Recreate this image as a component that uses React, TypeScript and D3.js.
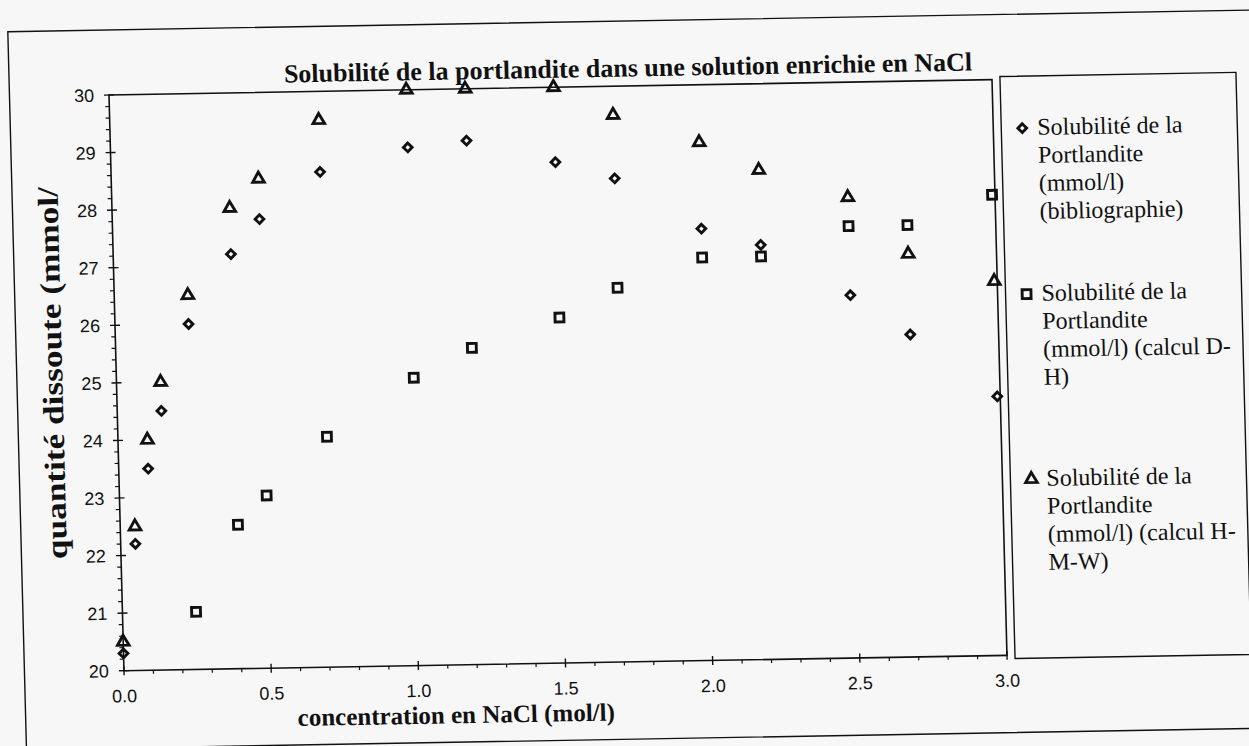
import React from "react";
import * as d3 from "d3";

// NaCl concentration (mol/l) shared by the three series
const concentrations = [0, 0.05, 0.1, 0.15, 0.25, 0.4, 0.5, 0.71, 1.01, 1.21, 1.51, 1.71, 2.0, 2.2, 2.5, 2.7, 2.99];
// Portlandite solubility (mmol/l)
const bibliographie = [20.3, 22.2, 23.5, 24.5, 26.0, 27.2, 27.8, 28.6, 29.0, 29.1, 28.7, 28.4, 27.5, 27.2, 26.3, 25.6, 24.5];
const calculDH = [null, null, null, null, 21.0, 22.5, 23.0, 24.0, 25.0, 25.5, 26.0, 26.5, 27.0, 27.0, 27.5, 27.5, 28.0];
const calculHMW = [20.5, 22.5, 24.0, 25.0, 26.5, 28.0, 28.5, 29.5, 30.0, 30.0, 30.0, 29.5, 29.0, 28.5, 28.0, 27.0, 26.5];

const xTickLabels = ["0.0", "0.5", "1.0", "1.5", "2.0", "2.5", "3.0"];
const yTickLabels = ["20", "21", "22", "23", "24", "25", "26", "27", "28", "29", "30"];

const chartTitle = "Solubilité de la portlandite dans une solution enrichie en NaCl";
const xTitle = "concentration en NaCl (mol/l)";
const yTitle = "quantité dissoute (mmol/";

const legendEntries = [
  { marker: "diamond", lines: ["Solubilité de la", "Portlandite", "(mmol/l)", "(bibliographie)"] },
  { marker: "square", lines: ["Solubilité de la", "Portlandite", "(mmol/l) (calcul D-", "H)"] },
  { marker: "triangle", lines: ["Solubilité de la", "Portlandite", "(mmol/l) (calcul H-", "M-W)"] },
];

const W = 1249;
const H = 746;
const plot = { left: 109, right: 992, top: 95, bottom: 670.7 };
const serif = "'Liberation Serif', 'Times New Roman', serif";
const sans = "'Liberation Sans', Arial, sans-serif";
const ink = "#111";
const paper = "#f7f7f7";

const shapes: Record<string, { d: string; rot: number }> = {
  diamond: { d: d3.symbol(d3.symbolSquare, 38)() as string, rot: 45 },
  square: { d: d3.symbol(d3.symbolSquare, 78)() as string, rot: 0 },
  triangle: { d: d3.symbol(d3.symbolTriangle, 58)() as string, rot: 0 },
};

function Marker({ kind, cx, cy }: { kind: string; cx: number; cy: number }) {
  const s = shapes[kind];
  return (
    <path
      d={s.d}
      transform={`translate(${cx},${cy}) rotate(${s.rot})`}
      fill="none"
      stroke={ink}
      strokeWidth={2.9}
      strokeLinejoin="miter"
    />
  );
}

export default function App() {
  const x = d3.scaleLinear().domain([0, 3]).range([plot.left, plot.right]);
  const y = d3.scaleLinear().domain([20, 30]).range([plot.bottom, plot.top]);

  const xMajor = xTickLabels.map(Number);
  const xMinor = d3.range(0, 31).filter((i) => i % 5 !== 0).map((i) => i / 10);
  const yMajor = yTickLabels.map(Number);
  const yMinor = d3.range(0, 51).filter((i) => i % 5 !== 0).map((i) => 20 + i / 5);

  const series = [
    { kind: "diamond", values: bibliographie },
    { kind: "square", values: calculDH },
    { kind: "triangle", values: calculHMW },
  ];

  const legendTop = [151, 317, 502];
  const lineGap = 28;

  return (
    <svg width={W} height={H} style={{ position: "absolute", left: 0, top: 0, background: paper }}>
      <rect x={0} y={0} width={W} height={H} fill={paper} />
      {/* the whole sheet sits slightly askew on the page */}
      <g transform="matrix(1,-0.0174,0.026,1,-2.47,1.9)">
        {/* outer chart frame */}
        <rect x={9.5} y={30} width={1250} height={718} fill="none" stroke={ink} strokeWidth={1.4} />

        {/* title */}
        <text
          x={(282 + 975) / 2}
          y={85.5}
          textAnchor="middle"
          fontFamily={serif}
          fontWeight="bold"
          fontSize={26}
          fill={ink}
        >
          {chartTitle}
        </text>

        {/* plot frame */}
        <rect
          x={plot.left}
          y={plot.top}
          width={plot.right - plot.left}
          height={plot.bottom - plot.top}
          fill="none"
          stroke={ink}
          strokeWidth={1.6}
        />

        {/* y axis ticks */}
        {yMinor.map((v) => (
          <line key={"ym" + v} x1={plot.left - 4} x2={plot.left} y1={y(v)} y2={y(v)} stroke={ink} strokeWidth={1.2} />
        ))}
        {yMajor.map((v, i) => (
          <g key={"yM" + v}>
            <line x1={plot.left - 5} x2={plot.left + 5} y1={y(v)} y2={y(v)} stroke={ink} strokeWidth={1.4} />
            <text x={plot.left - 15} y={y(v)} dy="0.36em" textAnchor="end" fontFamily={sans} fontSize={18} fill={ink}>
              {yTickLabels[i]}
            </text>
          </g>
        ))}

        {/* x axis ticks */}
        {xMinor.map((v) => (
          <line key={"xm" + v} x1={x(v)} x2={x(v)} y1={plot.bottom} y2={plot.bottom + 3.5} stroke={ink} strokeWidth={1.2} />
        ))}
        {xMajor.map((v, i) => (
          <g key={"xM" + v}>
            <line x1={x(v)} x2={x(v)} y1={plot.bottom - 4.5} y2={plot.bottom + 4.5} stroke={ink} strokeWidth={1.4} />
            <text x={x(v)} y={plot.bottom + 25} dy="0.36em" textAnchor="middle" fontFamily={sans} fontSize={18} fill={ink}>
              {xTickLabels[i]}
            </text>
          </g>
        ))}

        {/* axis titles */}
        <text x={440} y={729} textAnchor="middle" fontFamily={serif} fontWeight="bold" fontSize={25} fill={ink}>
          {xTitle}
        </text>
        <text
          transform="translate(55,372) rotate(-90)"
          textAnchor="middle"
          fontFamily={serif}
          fontWeight="bold"
          fontSize={29}
          textLength={372}
          lengthAdjust="spacingAndGlyphs"
          fill={ink}
        >
          {yTitle}
        </text>

        {/* data points */}
        {series.map((s) =>
          s.values.map((v, i) =>
            v == null ? null : <Marker key={s.kind + i} kind={s.kind} cx={x(concentrations[i])} cy={y(v)} />
          )
        )}

        {/* legend */}
        <rect x={1000} y={92} width={236} height={582} fill={paper} stroke={ink} strokeWidth={1.4} />
        {legendEntries.map((e, k) => (
          <g key={"lg" + k}>
            <Marker kind={e.marker} cx={1021} cy={legendTop[k] - 7} />
            {e.lines.map((t, j) => (
              <text key={j} x={1036} y={legendTop[k] + j * lineGap} fontFamily={serif} fontSize={24} fill={ink}>
                {t}
              </text>
            ))}
          </g>
        ))}
      </g>
    </svg>
  );
}
